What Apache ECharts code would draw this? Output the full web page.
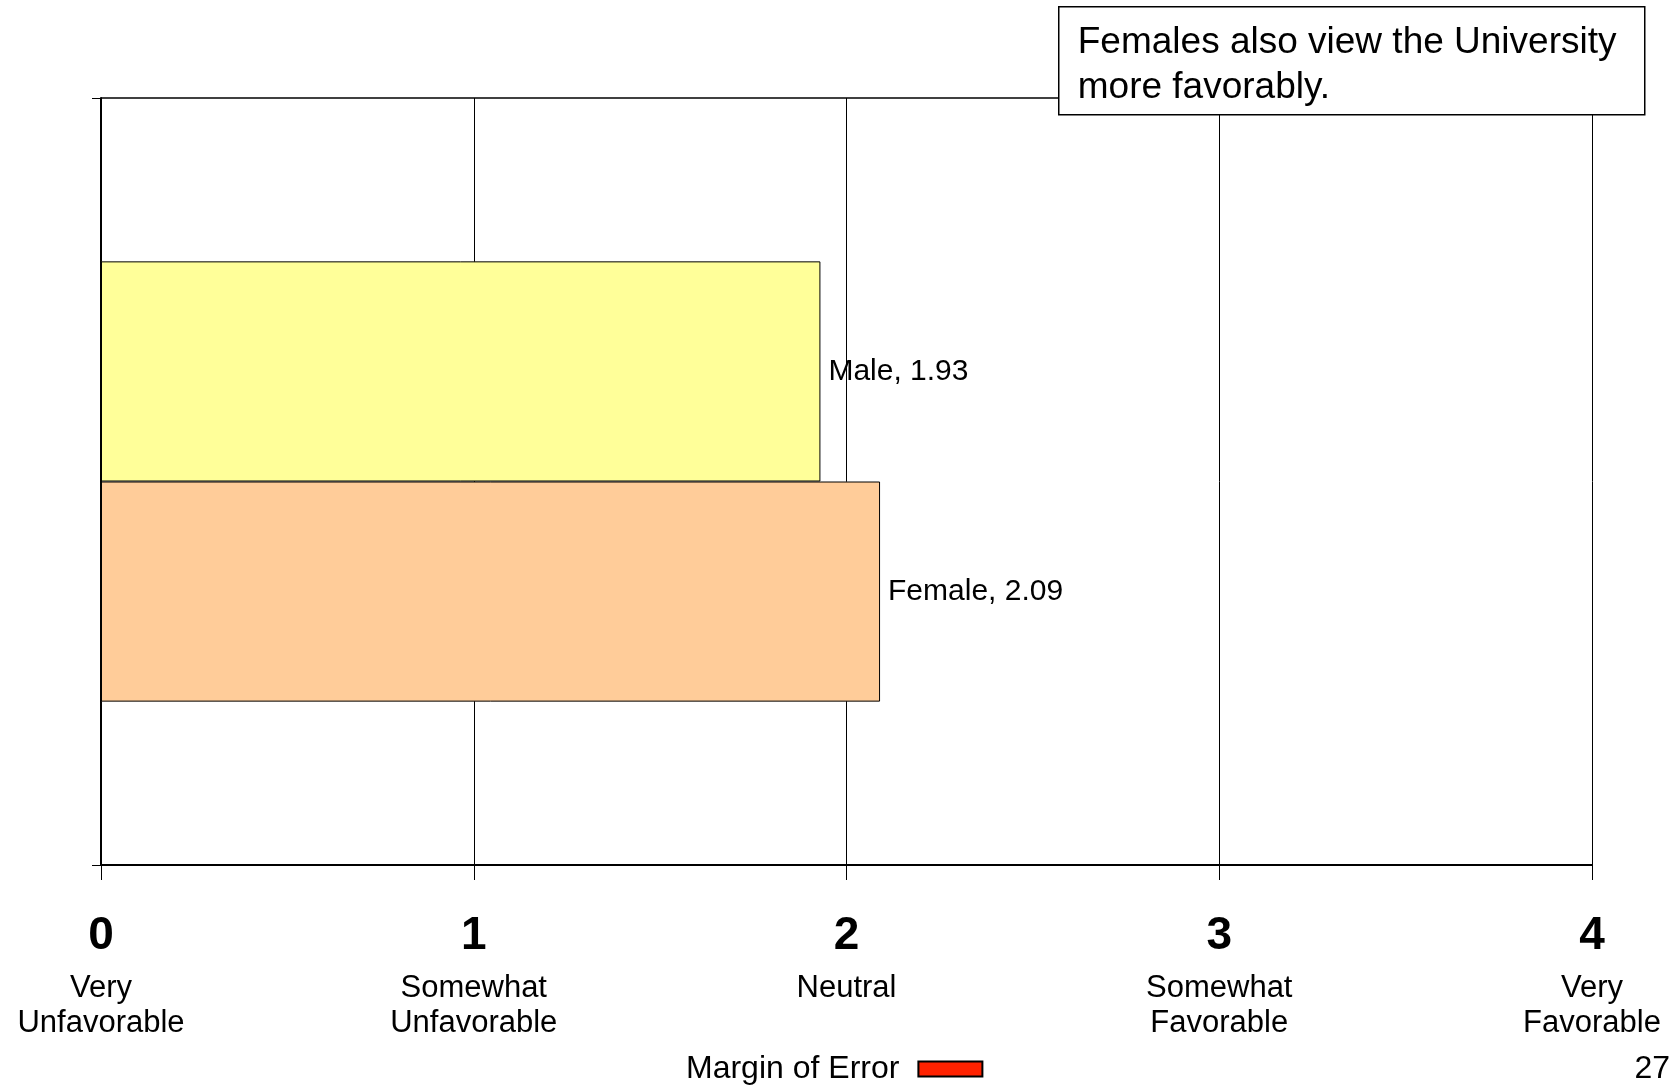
<!DOCTYPE html>
<html>
<head>
<meta charset="utf-8">
<script src="https://cdn.jsdelivr.net/npm/echarts@6/dist/echarts.min.js"></script>
<style>
  html, body { margin: 0; padding: 0; background: #fff; }
  #chart { width: 1679px; height: 1087px; }
</style>
</head>
<body>
<div id="chart"></div>
<script>
// valores
const groups = ["Male", "Female"];
const scores = [1.93, 2.09];
const barColors = ["#FFFF99", "#FFCC99"];
const tickNums = [0, 1, 2, 3, 4];
const tickDescs = [
  ["Very", "Unfavorable"],
  ["Somewhat", "Unfavorable"],
  ["Neutral"],
  ["Somewhat", "Favorable"],
  ["Very", "Favorable"]
];
const legendName = "Margin of Error";
const noteLines = ["Females also view the University", "more favorably."];
const pageNum = "27";

const FONT = "'Liberation Sans', Arial, sans-serif";

const chart = echarts.init(document.getElementById("chart"));

const barSeries = groups.map((g, i) => ({
  name: g,
  type: "bar",
  data: [scores[i]],
  barGap: "0%",
  barCategoryGap: "42.6%",
  itemStyle: { color: barColors[i], borderColor: "#000", borderWidth: 1 },
  label: {
    show: true,
    position: "right",
    distance: 8,
    formatter: "{a}, {c}",
    fontFamily: FONT,
    fontSize: 30,
    color: "#000"
  },
  silent: true
}));

const option = {
  animation: false,
  backgroundColor: "#fff",
  textStyle: { fontFamily: FONT },
  grid: { left: 101, right: 87, top: 98, bottom: 222 },
  legend: {
    data: [{ name: legendName, icon: "rect" }],
    left: 686,
    top: 1053,
    padding: 0,
    align: "right",
    itemWidth: 64,
    itemHeight: 15,
    itemStyle: { color: "#FF2200", opacity: 1, borderColor: "#000", borderWidth: 2 },
    textStyle: { fontFamily: FONT, fontSize: 32, color: "#000", padding: [0, 14, 0, 0] }
  },
  xAxis: {
    type: "value",
    min: 0,
    max: 4,
    interval: 1,
    axisLine: { show: true, lineStyle: { color: "#000", width: 2 } },
    axisTick: { show: true, length: 15, lineStyle: { color: "#000", width: 1 } },
    splitLine: { show: true, lineStyle: { color: "#000", width: 1 } },
    axisLabel: {
      margin: 36,
      showMinLabel: true,
      showMaxLabel: true,
      formatter: v => {
        const i = tickNums.indexOf(v);
        const desc = (tickDescs[i] || []).map(t => "{txt|" + t + "}").join("\n");
        return "{num|" + v + "}\n" + desc;
      },
      rich: {
        num: { fontFamily: FONT, fontSize: 46, fontWeight: "bold", lineHeight: 70, color: "#000" },
        txt: { fontFamily: FONT, fontSize: 31, lineHeight: 35, color: "#000" }
      }
    }
  },
  yAxis: {
    type: "category",
    data: [""],
    axisLine: { show: true, lineStyle: { color: "#000", width: 2 } },
    axisTick: { show: true, length: 9, lineStyle: { color: "#000", width: 1 } },
    axisLabel: { show: false },
    splitLine: { show: true, lineStyle: { color: "#000", width: 1.5 } }
  },
  series: [
    ...barSeries,
    {
      name: legendName,
      type: "scatter",
      data: [],
      itemStyle: { color: "#FF2200", opacity: 1 }
    }
  ],
  graphic: [
    {
      type: "group",
      left: 1058,
      top: 6,
      z: 100,
      children: [
        {
          type: "rect",
          z: 100,
          shape: { x: 0, y: 0, width: 586, height: 108 },
          style: { fill: "#fff", stroke: "#000", lineWidth: 1.5 }
        },
        {
          type: "text",
          z: 101,
          x: 19,
          y: 14,
          style: {
            text: noteLines.join("\n"),
            fontFamily: FONT,
            fontSize: 37,
            lineHeight: 45,
            fill: "#000"
          }
        }
      ]
    },
    {
      type: "text",
      right: 9,
      top: 1053,
      style: { text: pageNum, fontFamily: FONT, fontSize: 32, fill: "#000" }
    }
  ]
};

chart.setOption(option);
window.addEventListener("resize", () => chart.resize());
</script>
</body>
</html>
